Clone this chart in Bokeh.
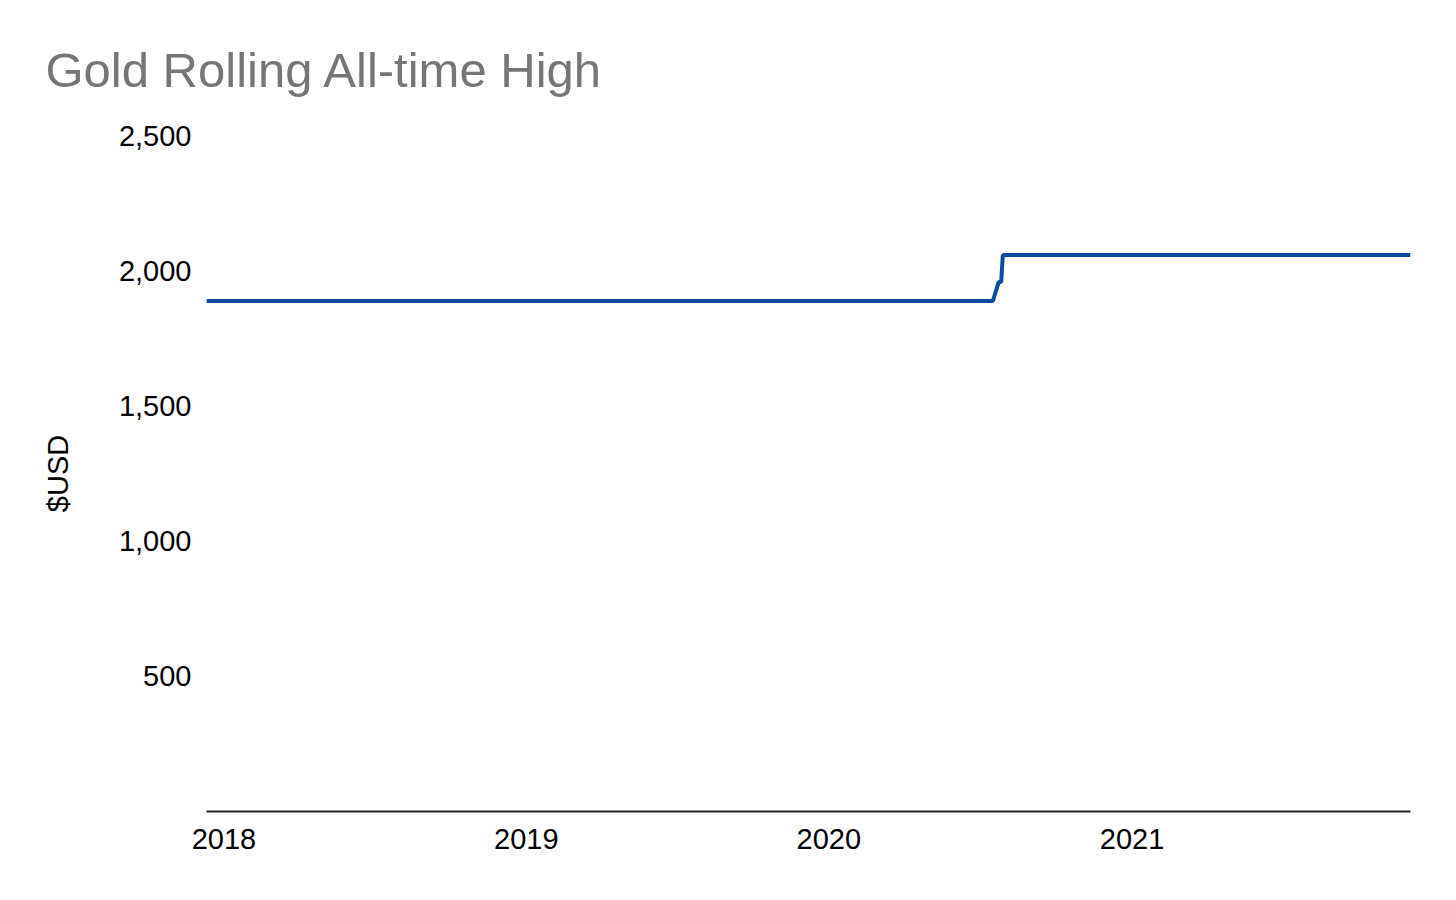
import pandas as pd
from bokeh.embed import file_html
from bokeh.models import (DatetimeTickFormatter, FixedTicker,
                          NumeralTickFormatter, Range1d)
from bokeh.plotting import figure
from bokeh.resources import INLINE

FONT = "Liberation Sans"

# rolling all-time high of the gold price, breakpoints
DATES = ["2017-12-11", "2020-07-17", "2020-07-24", "2020-07-27",
         "2020-07-29", "2021-12-03"]
HIGHS = [1888, 1888, 1958, 1958, 2058, 2058]

YEAR_TICKS = ["2018", "2019", "2020", "2021"]
Y_TICKS = [500, 1000, 1500, 2000, 2500]

dates = pd.to_datetime(DATES)

p = figure(width=1440, height=884, x_axis_type="datetime",
           output_backend="svg", toolbar_location=None,
           x_range=Range1d(dates.min(), dates.max()),
           y_range=Range1d(0, 2500),
           min_border_left=206, min_border_right=30,
           min_border_top=135, min_border_bottom=73)
p.outline_line_color = None
p.grid.grid_line_color = None

p.title.text = "Gold Rolling All-time High"
p.title.text_font = FONT
p.title.text_font_size = "49px"
p.title.text_font_style = "normal"
p.title.text_color = "#767676"
p.title.align = "left"
p.title.offset = -161
p.title.standoff = 78

p.line(dates, HIGHS, line_color="#0b4d9d", line_width=4)

# x axis
p.xaxis.ticker = FixedTicker(ticks=[pd.Timestamp(y).value // 10**6 for y in YEAR_TICKS])
p.xaxis.formatter = DatetimeTickFormatter(years="%Y", months="%Y", days="%Y",
                                          hours="%Y", minutes="%Y")
p.xaxis.axis_line_color = "#222222"
p.xaxis.axis_line_width = 2
p.xaxis.major_label_standoff = 17

# y axis
p.yaxis.ticker = FixedTicker(ticks=Y_TICKS)
p.yaxis.formatter = NumeralTickFormatter(format="0,0")
p.yaxis.axis_line_color = None
p.yaxis.major_label_standoff = 15
p.yaxis.axis_label = "$USD"
p.yaxis.axis_label_text_font = FONT
p.yaxis.axis_label_text_font_size = "29px"
p.yaxis.axis_label_text_font_style = "normal"
p.yaxis.axis_label_text_color = "black"
p.yaxis.axis_label_standoff = 42

for ax in (p.xaxis, p.yaxis):
    ax.major_tick_line_color = None
    ax.minor_tick_line_color = None
    ax.major_tick_in = 0
    ax.major_tick_out = 0
    ax.major_label_text_font = FONT
    ax.major_label_text_font_size = "29px"
    ax.major_label_text_color = "black"

open("out.html", "w").write(file_html(p, INLINE))
